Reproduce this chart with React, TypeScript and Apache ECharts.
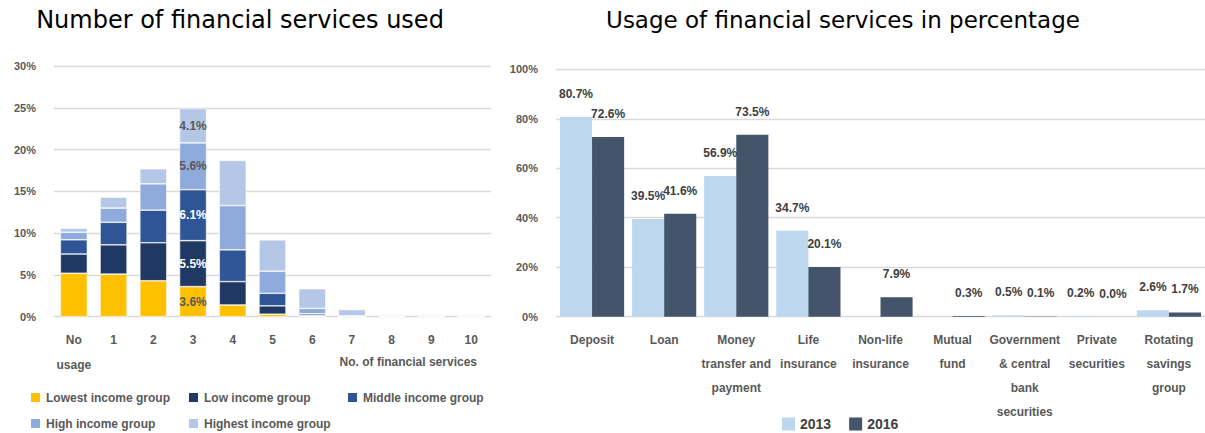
import React, { useEffect, useRef } from "react";
import * as echarts from "echarts";

const countCategories = ["No\nusage", "1", "2", "3", "4", "5", "6", "7", "8", "9", "10"];
const lowestIncome = [5.2, 5.1, 4.3, 3.6, 1.4, 0.3, 0.05, 0, 0, 0, 0];
const lowIncome = [2.3, 3.5, 4.55, 5.5, 2.8, 1.0, 0.1, 0, 0, 0, 0];
const middleIncome = [1.7, 2.7, 3.9, 6.1, 3.8, 1.5, 0.2, 0, 0, 0, 0];
const highIncome = [0.9, 1.7, 3.15, 5.6, 5.3, 2.65, 0.65, 0.1, 0, 0, 0];
const highestIncome = [0.5, 1.3, 1.8, 4.1, 5.4, 3.75, 2.35, 0.75, 0, 0, 0];
const labelledCategory = "3";
const countTicks = { min: 0, max: 30, interval: 5 };

const serviceCategories = [
  "Deposit",
  "Loan",
  "Money\ntransfer and\npayment",
  "Life\ninsurance",
  "Non-life\ninsurance",
  "Mutual\nfund",
  "Government\n& central\nbank\nsecurities",
  "Private\nsecurities",
  "Rotating\nsavings\ngroup",
];
const usage2013 = [80.7, 39.5, 56.9, 34.7, null, null, 0.5, 0.2, 2.6];
const usage2016 = [72.6, 41.6, 73.5, 20.1, 7.9, 0.3, 0.1, 0.0, 1.7];
const usageTicks = { min: 0, max: 100, interval: 20 };

const incomeGroups = [
  { name: "Lowest income group", data: lowestIncome, color: "#FFC000", labelColor: "#595959" },
  { name: "Low income group", data: lowIncome, color: "#203864", labelColor: "#ffffff" },
  { name: "Middle income group", data: middleIncome, color: "#2F5597", labelColor: "#ffffff" },
  { name: "High income group", data: highIncome, color: "#8FAADC", labelColor: "#595959" },
  { name: "Highest income group", data: highestIncome, color: "#B4C7E7", labelColor: "#595959" },
];

const FONT = "'Liberation Sans', Arial, sans-serif";
const GRAY = "#595959";

export default function App() {
  const ref = useRef<HTMLDivElement>(null);
  useEffect(() => {
    if (!ref.current) return;
    const chart = echarts.init(ref.current, null, { renderer: "svg" });
    const baseText = {
      fontFamily: FONT,
      fontWeight: "bold" as const,
      color: GRAY,
    };
    const legendPos = [
      { left: 29, top: 391 },
      { left: 187, top: 391 },
      { left: 346, top: 391 },
      { left: 29, top: 417 },
      { left: 187, top: 417 },
    ];
    const leftLegends = incomeGroups.map((g, i) => ({
      data: [g.name],
      left: legendPos[i].left,
      top: legendPos[i].top,
      padding: 0,
      icon: "rect",
      itemWidth: 11,
      itemHeight: 11,
      itemGap: 5,
      textStyle: { ...baseText, fontSize: 12 },
    }));
    const option: any = {
      animation: false,
      backgroundColor: "#ffffff",
      graphic: [
        {
          type: "text",
          x: 240,
          y: 20,
          style: {
            text: "Number of financial services used",
            font: "24px 'DejaVu Sans', sans-serif",
            fill: "#000000",
            align: "center",
            verticalAlign: "middle",
          },
        },
        {
          type: "text",
          x: 843,
          y: 20,
          style: {
            text: "Usage of financial services in percentage",
            font: "23px 'DejaVu Sans', sans-serif",
            fill: "#000000",
            align: "center",
            verticalAlign: "middle",
          },
        },
        {
          type: "text",
          x: 477,
          y: 362,
          style: {
            text: "No. of financial services",
            font: `bold 12px ${FONT}`,
            fill: GRAY,
            align: "right",
            verticalAlign: "middle",
          },
        },
      ],
      legend: [
        ...leftLegends,
        {
          data: ["2013", "2016"],
          left: 782,
          top: 417,
          padding: 0,
          icon: "rect",
          itemWidth: 13,
          itemHeight: 13,
          itemGap: 18,
          textStyle: { ...baseText, fontSize: 14, color: "#404040" },
        },
      ],
      grid: [
        { left: 54, top: 66, width: 437, height: 250.7 },
        { left: 556, top: 69.3, width: 651, height: 247.4 },
      ],
      xAxis: [
        {
          type: "category",
          gridIndex: 0,
          data: countCategories,
          axisLine: { show: false },
          axisTick: { show: false },
          axisLabel: { ...baseText, fontSize: 12, lineHeight: 25, margin: 11, interval: 0 },
        },
        {
          type: "category",
          gridIndex: 1,
          data: serviceCategories,
          axisLine: { show: false },
          axisTick: { show: false },
          axisLabel: { ...baseText, fontSize: 12, lineHeight: 24, margin: 11, interval: 0 },
        },
      ],
      yAxis: [
        {
          type: "value",
          gridIndex: 0,
          min: countTicks.min,
          max: countTicks.max,
          interval: countTicks.interval,
          axisLabel: { ...baseText, fontSize: 11, formatter: "{value}%", margin: 18 },
          splitLine: { lineStyle: { color: "#D9D9D9", width: 1.3 } },
        },
        {
          type: "value",
          gridIndex: 1,
          min: usageTicks.min,
          max: usageTicks.max,
          interval: usageTicks.interval,
          axisLabel: { ...baseText, fontSize: 11, formatter: "{value}%", margin: 18 },
          splitLine: { lineStyle: { color: "#D9D9D9", width: 1.3 } },
        },
      ],
      series: [
        ...incomeGroups.map((g) => ({
          name: g.name,
          type: "bar",
          stack: "income",
          xAxisIndex: 0,
          yAxisIndex: 0,
          barCategoryGap: "32%",
          itemStyle: { color: g.color, borderColor: "#ffffff", borderWidth: 0.6 },
          data: g.data.map((v, i) => ({
            value: v,
            label: {
              show: countCategories[i] === labelledCategory,
              position: "inside",
              formatter: (p: any) => `${Number(p.value).toFixed(1)}%`,
              fontFamily: FONT,
              fontSize: 12,
              fontWeight: "bold",
              color: g.labelColor,
            },
          })),
        })),
        {
          name: "2013",
          type: "bar",
          xAxisIndex: 1,
          yAxisIndex: 1,
          barGap: "0%",
          barCategoryGap: "11%",
          itemStyle: { color: "#BDD7EE" },
          label: {
            show: true,
            position: "top",
            distance: 17,
            formatter: (p: any) => `${Number(p.value).toFixed(1)}%`,
            ...baseText,
            fontSize: 12,
            color: "#404040",
          },
          data: usage2013,
        },
        {
          name: "2016",
          type: "bar",
          xAxisIndex: 1,
          yAxisIndex: 1,
          barGap: "0%",
          barCategoryGap: "11%",
          itemStyle: { color: "#44546A" },
          label: {
            show: true,
            position: "top",
            distance: 17,
            formatter: (p: any) => `${Number(p.value).toFixed(1)}%`,
            ...baseText,
            fontSize: 12,
            color: "#404040",
          },
          data: usage2016,
        },
      ],
    };
    chart.setOption(option);
    return () => chart.dispose();
  }, []);
  return (
    <div
      style={{
        position: "fixed",
        left: 0,
        top: 0,
        width: 1205,
        height: 433,
        overflow: "hidden",
        background: "#fff",
      }}
    >
      <div ref={ref} style={{ width: 1205, height: 433 }} />
    </div>
  );
}
